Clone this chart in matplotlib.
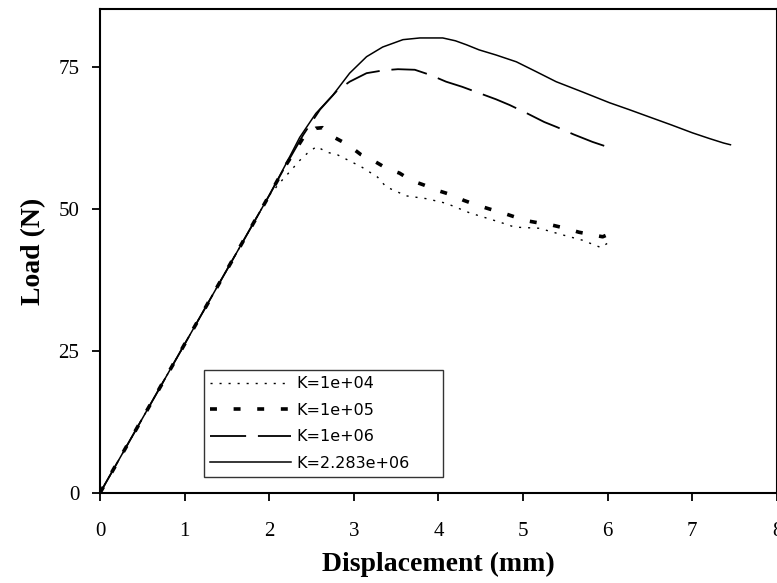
import matplotlib
matplotlib.use("Agg")
import matplotlib.pyplot as plt

# displacement (mm) / load (N) for each stiffness K
x_k4 = [0, 0.5, 1.0, 1.5, 2.0, 2.16, 2.27, 2.35, 2.45, 2.56, 2.68, 2.81, 2.93, 3.09, 3.28,
        3.38, 3.62, 3.86, 4.09, 4.37, 4.72, 4.90, 5.19, 5.45, 5.70, 5.92, 6.05]
y_k4 = [0, 13.1, 26.2, 39.3, 52.4, 55.2, 57.0, 58.4, 59.8, 61.0, 60.0, 59.5, 58.6, 57.4, 55.6,
        53.9, 52.3, 51.8, 51.0, 49.3, 47.7, 46.8, 46.6, 45.5, 44.5, 43.2, 44.5]

x_k5 = [0, 0.5, 1.0, 1.5, 2.0, 2.2, 2.4, 2.55, 2.63, 2.78, 2.93, 3.08, 3.22, 3.38, 3.54, 3.68,
        3.83, 4.0, 4.15, 4.3, 4.45, 4.6, 4.76, 4.9, 5.05, 5.2, 5.33, 5.5, 5.66, 5.8, 5.94, 6.05]
y_k5 = [0, 13.1, 26.2, 39.3, 52.4, 57.8, 62.5, 64.2, 64.3, 62.5, 61.3, 59.6, 58.6, 57.2, 56.3, 55.0,
        54.2, 53.2, 52.5, 51.5, 50.7, 50.0, 49.3, 48.6, 47.9, 47.5, 47.2, 46.6, 45.9, 45.5, 45.1, 45.8]

x_k6 = [0, 0.5, 1.0, 1.5, 2.0, 2.2, 2.4, 2.6, 2.8, 2.95, 3.15, 3.35, 3.52, 3.72, 3.9, 4.09,
        4.28, 4.48, 4.68, 4.84, 5.05, 5.25, 5.40, 5.6, 5.82, 6.0, 6.05]
y_k6 = [0, 13.1, 26.2, 39.3, 52.4, 57.8, 63.0, 67.5, 70.8, 72.4, 73.9, 74.4, 74.6, 74.5, 73.6, 72.4,
        71.5, 70.4, 69.3, 68.3, 66.8, 65.3, 64.4, 63.1, 61.8, 60.9, 60.7]

x_k2283 = [0, 0.5, 1.0, 1.5, 2.0, 2.2, 2.36, 2.55, 2.75, 2.95, 3.15, 3.34, 3.58, 3.78, 4.05, 4.2,
           4.33, 4.48, 4.68, 4.92, 5.15, 5.39, 5.7, 6.02, 6.25, 6.49, 6.75, 7.0, 7.2, 7.37, 7.45]
y_k2283 = [0, 13.1, 26.2, 39.3, 52.4, 58.0, 62.6, 66.8, 70.0, 73.9, 76.8, 78.5, 79.8, 80.1, 80.1, 79.6,
           78.9, 78.0, 77.1, 75.9, 74.2, 72.4, 70.6, 68.7, 67.5, 66.2, 64.8, 63.4, 62.4, 61.6, 61.3]

labels = ['K=1e+04', 'K=1e+05', 'K=1e+06', 'K=2.283e+06']
x_ticks = [0, 1, 2, 3, 4, 5, 6, 7, 8]
y_ticks = [0, 25, 50, 75]

plt.rcParams['lines.scale_dashes'] = False

fig = plt.figure(figsize=(7.77, 5.83), dpi=100)
ax = fig.add_axes([0.1287, 0.1544, 0.8713, 0.8302])

ax.plot(x_k4, y_k4, color='black', lw=1.0, linestyle=(0, (1.5, 5)), label=labels[0])
ax.plot(x_k5, y_k5, color='black', lw=2.6, linestyle=(0, (5, 12)), label=labels[1])
ax.plot(x_k6, y_k6, color='black', lw=1.3, linestyle=(0, (26, 8.5)), label=labels[2])
ax.plot(x_k2283, y_k2283, color='black', lw=1.1, linestyle='-', label=labels[3])

ax.set_xlim(0, 8)
ax.set_ylim(0, 85.2)
ax.set_xticks(x_ticks)
ax.set_yticks(y_ticks)
ax.set_xticklabels([str(t) for t in x_ticks], family='Liberation Serif', fontsize=15)
ax.set_yticklabels([str(t) for t in y_ticks], family='Liberation Serif', fontsize=15)
ax.tick_params(direction='out', length=6, width=1.3)
ax.tick_params(axis='x', pad=15)
ax.tick_params(axis='y', pad=9)

for s in ax.spines.values():
    s.set_linewidth(1.5)

ax.set_xlabel('Displacement (mm)', family='Liberation Serif', fontweight='bold', fontsize=20, labelpad=8)
ax.set_ylabel('Load (N)', family='Liberation Serif', fontweight='bold', fontsize=20, labelpad=9)

leg = ax.legend(loc='upper left', bbox_to_anchor=(0.153, 0.0, 0.354, 0.254), mode='expand',
                borderaxespad=0, prop={'family': 'DejaVu Sans', 'size': 11.5}, frameon=True,
                fancybox=False, edgecolor='black', handlelength=5.1, handletextpad=0.3,
                labelspacing=0.72, borderpad=0.4)
leg.get_frame().set_linewidth(1.0)

fig.savefig('out.png', dpi=100)
